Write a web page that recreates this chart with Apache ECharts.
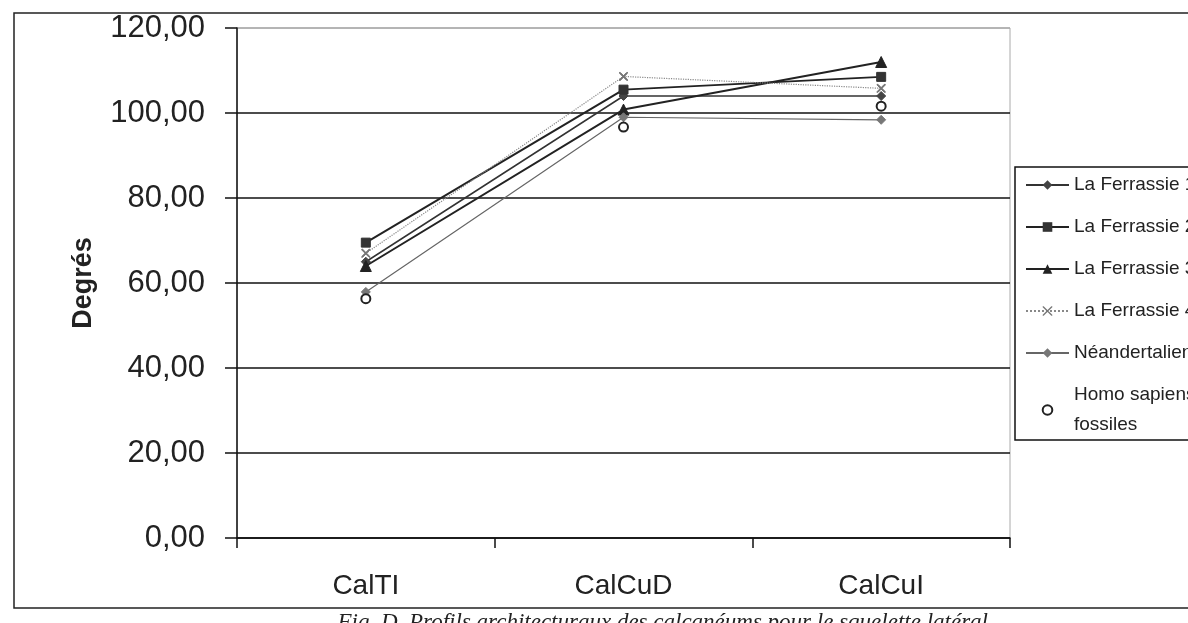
<!DOCTYPE html>
<html>
<head>
<meta charset="utf-8">
<script src="https://cdn.jsdelivr.net/npm/echarts@6/dist/echarts.min.js"></script>
<style>
html,body{margin:0;padding:0;background:#fff;}
#chart{width:1188px;height:623px;}
</style>
</head>
<body>
<div id="chart"></div>
<script>
var categories = ['CalTI', 'CalCuD', 'CalCuI'];
var yTicks = [0, 20, 40, 60, 80, 100, 120];
var seriesNames = ['La Ferrassie 1', 'La Ferrassie 2', 'La Ferrassie 3', 'La Ferrassie 4', 'Néandertaliens', 'Homo sapiens\nfossiles'];
var laFerrassie1 = [65.0, 104.0, 104.0];
var laFerrassie2 = [69.5, 105.5, 108.5];
var laFerrassie3 = [64.0, 100.8, 112.0];
var laFerrassie4 = [67.0, 108.6, 105.8];
var neandertaliens = [57.9, 99.0, 98.4];
var homoSapiens = [56.3, 96.7, 101.6];
var yTitle = 'Degrés';
var caption = 'Fig. D. Profils architecturaux des calcanéums pour le squelette latéral';

var xMark = 'path://M0,0 L10,10 M10,0 L0,10 M0,0 L1,0 L10,9 L10,10 L9,10 L0,1 Z M10,0 L10,1 L1,10 L0,10 L0,9 L9,0 Z';

var chart = echarts.init(document.getElementById('chart'));
var font = '"Liberation Sans", Arial, sans-serif';

function lineSeries(name, data, symbol, size, lineColor, symColor, lineType, width) {
  return {
    name: name, type: 'line', data: data,
    symbol: symbol, symbolSize: size,
    lineStyle: { color: lineColor, width: width, type: lineType },
    itemStyle: { color: symColor, borderColor: symColor },
    emphasis: { disabled: true },
    z: 3
  };
}

chart.setOption({
  animation: false,
  backgroundColor: '#fff',
  textStyle: { fontFamily: font },
  grid: {
    left: 237, top: 28, right: 178, bottom: 85,
    show: true, borderColor: '#aaa', borderWidth: 1, backgroundColor: 'transparent'
  },
  graphic: [
    { type: 'rect', shape: { x: 14, y: 13, width: 1250, height: 595 },
      style: { fill: 'none', stroke: '#222', lineWidth: 1.5 }, z: 0 },
    { type: 'text', right: 200, top: 611, z: 10,
      style: { text: caption, font: 'italic 23px "Liberation Serif", "Times New Roman", serif', fill: '#222' } }
  ],
  legend: {
    orient: 'vertical', left: 1015, top: 167,
    padding: [3, 80, 0, 10],
    itemWidth: 43, itemHeight: 12, itemGap: 12,
    borderColor: '#111', borderWidth: 1.5, backgroundColor: '#fff',
    textStyle: { fontSize: 19, lineHeight: 30, color: '#222', fontFamily: font },
    data: seriesNames
  },
  xAxis: {
    type: 'category', data: categories,
    axisLine: { lineStyle: { color: '#111', width: 1.5 } },
    axisTick: { show: true, length: 10, lineStyle: { color: '#111', width: 1.5 } },
    axisLabel: { fontSize: 28, color: '#222', margin: 34, fontFamily: font }
  },
  yAxis: {
    type: 'value', min: 0, max: 120, interval: 20,
    name: yTitle, nameLocation: 'middle', nameGap: 140,
    nameTextStyle: { fontSize: 27, fontWeight: 'bold', color: '#222', fontFamily: font },
    axisLine: { show: true, lineStyle: { color: '#111', width: 1.5 } },
    axisTick: { show: true, length: 12, lineStyle: { color: '#111', width: 1.5 } },
    axisLabel: {
      fontSize: 31, color: '#222', margin: 32, fontFamily: font,
      formatter: function (v) { return yTicks.indexOf(v) >= 0 ? v.toFixed(2).replace('.', ',') : ''; }
    },
    splitLine: { show: true, lineStyle: { color: ['#111', '#111', '#111', '#111', '#111', '#111', '#aaa'], width: 1.5 } }
  },
  series: [
    lineSeries(seriesNames[0], laFerrassie1, 'diamond', 9, '#333', '#444', 'solid', 1.5),
    lineSeries(seriesNames[1], laFerrassie2, 'rect', 9, '#222', '#333', 'solid', 2),
    lineSeries(seriesNames[2], laFerrassie3, 'triangle', 11, '#222', '#222', 'solid', 2),
    lineSeries(seriesNames[3], laFerrassie4, xMark, 8, '#888', '#777', 'dotted', 1.2),
    lineSeries(seriesNames[4], neandertaliens, 'diamond', 9, '#666', '#777', 'solid', 1.2),
    {
      name: seriesNames[5], type: 'line', data: homoSapiens,
      symbol: 'emptyCircle', symbolSize: 9,
      lineStyle: { width: 0, opacity: 0 },
      itemStyle: { color: '#222', borderColor: '#222', borderWidth: 1.5 },
      emphasis: { disabled: true }, z: 4
    }
  ]
});
</script>
</body>
</html>
